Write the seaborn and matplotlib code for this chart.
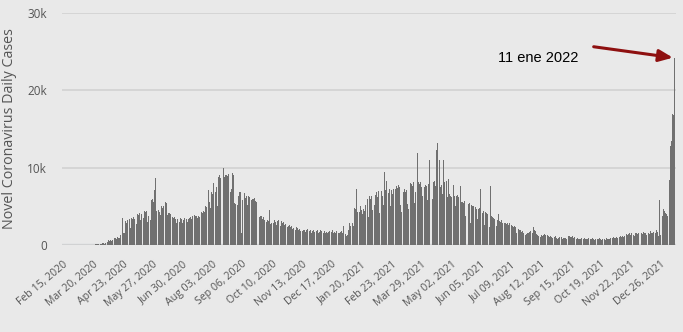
import numpy as np
import pandas as pd
import matplotlib
matplotlib.use("Agg")
import matplotlib.pyplot as plt
import seaborn as sns

# ---- data (daily cases; one row = 7 days starting Feb 15, 2020) ----
daily_cases = [
    0, 0, 0, 0, 0, 0, 0,
    0, 0, 0, 0, 0, 0, 0,
    0, 0, 0, 0, 0, 0, 1,
    0, 0, 5, 2, 4, 11, 6,
    17, 33, 31, 46, 28, 56, 89,
    60, 55, 90, 100, 120, 130, 110,
    150, 180, 140, 200, 250, 190, 310,
    400, 1300, 350, 600, 550, 650, 480,
    700, 2100, 900, 850, 950, 800, 1000,
    900, 850, 1300, 1300, 1200, 3500, 1500,
    1500, 3100, 2800, 3200, 2500, 3000, 3300,
    2200, 3500, 3400, 3600, 3300, 3500, 2700,
    2700, 4000, 3900, 4100, 3200, 4000, 3800,
    2700, 3500, 4400, 4300, 4400, 3000, 3800,
    3700, 3900, 3200, 5800, 5900, 5600, 7100,
    8700, 4400, 4600, 4300, 4500, 4300, 3900,
    5000, 4800, 5100, 3800, 5600, 5500, 5400,
    3900, 4100, 4200, 4000, 4100, 3700, 3600,
    3500, 3600, 3400, 2800, 3300, 3800, 3300,
    3000, 3500, 3300, 2900, 3200, 3500, 3300,
    3400, 3300, 3000, 3400, 3500, 3600, 3400,
    3700, 3800, 3600, 3900, 3700, 3800, 3500,
    3800, 3600, 3900, 4200, 4300, 4100, 4400,
    4300, 5000, 4900, 5600, 5200, 7100, 5500,
    4800, 6800, 6600, 8000, 7800, 8200, 6900,
    7500, 5000, 8800, 9000, 8700, 9200, 8900,
    6700, 10000, 8800, 9000, 9100, 8900, 9200,
    9000, 5800, 6800, 7200, 9300, 9000, 5400,
    5300, 5600, 5000, 5200, 6400, 6800, 6800,
    1500, 5800, 6500, 6300, 6700, 6100, 6400,
    5200, 6300, 6200, 6000, 6300, 5800, 6000,
    5900, 6100, 5700, 5500, 6000, 4800, 4000,
    3600, 3800, 3700, 3400, 3600, 3200, 3100,
    3300, 3000, 3200, 3100, 4500, 2700, 2900,
    3000, 3100, 2800, 3200, 3000, 2600, 3100,
    3200, 3000, 2900, 2500, 3100, 2800, 3000,
    2600, 2700, 2400, 2800, 2300, 2500, 2600,
    2300, 2500, 2100, 2200, 2600, 2400, 2000,
    2300, 2200, 1900, 2100, 1800, 2000, 2200,
    1800, 1900, 2000, 1700, 1900, 2100, 1600,
    1900, 1800, 2000, 1500, 1800, 2000, 1700,
    1900, 1600, 1800, 2000, 1500, 1700, 1900,
    1800, 1600, 1700, 1500, 1800, 1600, 1700,
    1500, 1700, 1800, 1600, 1400, 1700, 1900,
    1600, 1700, 1500, 1800, 1400, 1700, 1600,
    1500, 1700, 1800, 1600, 2500, 1300, 1300,
    1400, 1200, 1300, 2000, 2800, 2500, 2700,
    2600, 2800, 2500, 4800, 4600, 7200, 4300,
    4600, 4200, 4300, 5000, 4500, 4000, 4700,
    4400, 5200, 6300, 5800, 6000, 3600, 6400,
    5900, 6300, 4500, 8400, 7800, 5200, 6500,
    6800, 6200, 7000, 4100, 6400, 6800, 7000,
    6300, 5200, 9400, 7100, 8300, 7000, 6800,
    6700, 7200, 5000, 7100, 6600, 7300, 6900,
    4600, 7200, 7600, 7400, 7800, 7500, 5200,
    4300, 6900, 7000, 6800, 7300, 6900, 7100,
    5300, 4700, 7700, 7800, 8000, 7900, 7600,
    8200, 5400, 6800, 11000, 7800, 11900, 8200,
    7900, 8100, 7500, 6400, 12800, 7700, 7500,
    7800, 7600, 5800, 7900, 11000, 8200, 7800,
    8000, 5900, 8100, 8300, 7600, 12300, 13200,
    8200, 6900, 11000, 7500, 7700, 6600, 11000,
    8100, 7900, 8000, 8300, 6200, 8500, 6600,
    6400, 6200, 5300, 7800, 7700, 6400, 5000,
    6300, 6500, 6200, 4300, 6000, 7600, 5600,
    5500, 5400, 5700, 3800, 5300, 5600, 7100,
    5300, 5400, 2900, 5200, 5100, 5000, 4700,
    4800, 4900, 4700, 3400, 4600, 4800, 7200,
    4500, 4300, 4200, 4400, 2600, 4300, 4100,
    4000, 3800, 3900, 2300, 7600, 3700, 3600,
    3500, 3400, 3600, 3300, 2400, 3200, 4000,
    3100, 3000, 3200, 2900, 1900, 3000, 2900,
    2800, 2700, 2800, 2600, 2900, 1800, 2700,
    2600, 2500, 2300, 2400, 2300, 1600, 2200,
    2300, 2100, 2000, 1900, 1700, 1800, 1600,
    1700, 1500, 1300, 1400, 1600, 1500, 1700,
    1800, 1900, 2100, 1600, 2300, 2000, 1800,
    1400, 1300, 1200, 1400, 1300, 1000, 1300,
    1200, 1300, 1400, 1300, 1200, 900, 1300,
    1100, 1000, 1100, 1000, 900, 1000, 800,
    1000, 1100, 900, 800, 900, 1000, 900,
    900, 1000, 800, 950, 900, 850, 800,
    900, 950, 1100, 1100, 1000, 1050, 1100,
    900, 1000, 800, 750, 800, 850, 800,
    800, 750, 850, 800, 700, 800, 900,
    800, 750, 800, 850, 750, 700, 800,
    800, 850, 750, 700, 800, 850, 700,
    750, 800, 850, 800, 700, 750, 800,
    800, 750, 700, 850, 800, 750, 800,
    850, 800, 900, 950, 1000, 900, 850,
    1000, 950, 1050, 900, 1000, 1100, 1000,
    1100, 1000, 1200, 1300, 1100, 1400, 1300,
    1400, 1500, 1300, 1600, 1400, 1500, 1300,
    1200, 1500, 1600, 1400, 1500, 1300, 1700,
    1500, 1600, 1400, 1700, 1500, 1600, 1300,
    1500, 1700, 1600, 1400, 1800, 1600, 1500,
    1700, 1800, 1600, 1500, 1900, 1700, 1200,
    5800, 1300, 1200, 1700, 3800, 4600, 4400,
    4200, 4000, 3700, 3500, 5400, 8400, 12800,
    13500, 17000, 16800, 24200,
]

tick_labels = [
    "Feb 15, 2020", "Mar 20, 2020", "Apr 23, 2020", "May 27, 2020", "Jun 30, 2020",
    "Aug 03, 2020", "Sep 06, 2020", "Oct 10, 2020", "Nov 13, 2020", "Dec 17, 2020",
    "Jan 20, 2021", "Feb 23, 2021", "Mar 29, 2021", "May 02, 2021", "Jun 05, 2021",
    "Jul 09, 2021", "Aug 12, 2021", "Sep 15, 2021", "Oct 19, 2021", "Nov 22, 2021",
    "Dec 26, 2021",
]
tick_step_days = 34
y_ticks = [0, 10000, 20000, 30000]
y_tick_labels = ["0", "10k", "20k", "30k"]
annotation_text = "11 ene 2022"
y_title = "Novel Coronavirus Daily Cases"

df = pd.DataFrame({"day": np.arange(len(daily_cases)), "cases": daily_cases})

BG = "#e9e9e9"
sns.set_theme(style="whitegrid", rc={
    "axes.facecolor": BG,
    "figure.facecolor": BG,
    "grid.color": "#d3d3d3",
    "grid.linewidth": 1.3,
    "axes.edgecolor": BG,
})
plt.rcParams["font.family"] = ["Open Sans", "DejaVu Sans"]

fig = plt.figure(figsize=(6.83, 3.32), dpi=100)
ax = fig.add_axes([62 / 683, 1 - 245 / 332, (676 - 62) / 683, (245 - 13) / 332])

sns.barplot(data=df, x="day", y="cases", native_scale=True, color="#707070",
            width=0.85, linewidth=0, errorbar=None, saturation=1, ax=ax)

ax.set_xlim(-1.2, 698.0)
ax.set_ylim(0, 30000)
ax.axhline(0, color="#c3cbd6", lw=1.6, zorder=0.5)

ax.xaxis.grid(False)
ax.yaxis.grid(True)
ax.set_axisbelow(True)
for s in ax.spines.values():
    s.set_visible(False)

ax.set_yticks(y_ticks)
ax.set_yticklabels(y_tick_labels, fontsize=8.5, color="#555555")
positions = [i * tick_step_days for i in range(len(tick_labels))]
ax.set_xticks(positions)
ax.set_xticklabels(tick_labels, rotation=40, ha="right", rotation_mode="anchor",
                   fontsize=7.6, color="#555555")
ax.tick_params(axis="y", length=0, pad=11)
ax.tick_params(axis="x", length=0, pad=10)

ax.set_xlabel("")
ax.set_ylabel(y_title, fontsize=10.3, color="#555555")
ax.yaxis.set_label_coords(-0.073, 0.5)

last_day = df["day"].iloc[-1]
last_val = df["cases"].iloc[-1]
ax.annotate("", xy=(last_day, last_val), xycoords="data",
            xytext=(-58, 8), textcoords="offset points",
            arrowprops=dict(arrowstyle="-|>,head_length=0.7,head_width=0.3",
                            color="#8e1010", lw=2.2, shrinkA=0, shrinkB=1))
ax.annotate(annotation_text, xy=(last_day, last_val), xycoords="data",
            xytext=(-98, 0), textcoords="offset points", ha="center", va="center",
            fontsize=10.5, color="black", family=["Liberation Sans", "DejaVu Sans"])

fig.savefig("out.png", dpi=100, facecolor=BG)
